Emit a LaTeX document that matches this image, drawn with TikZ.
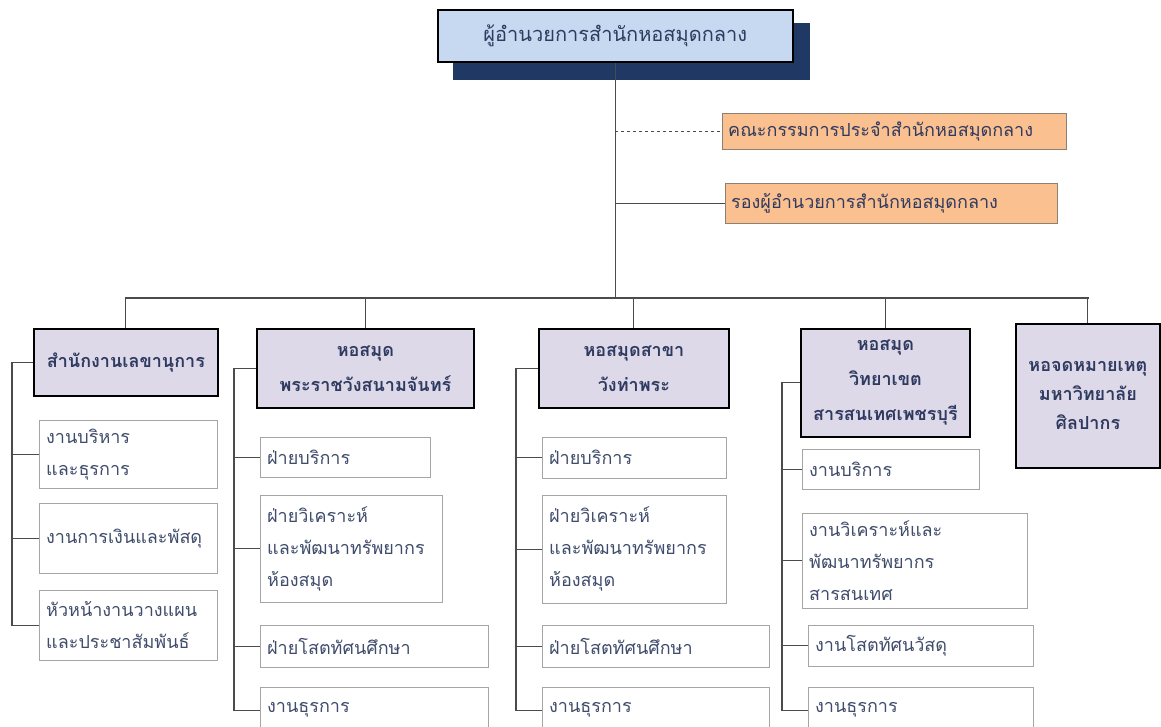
\documentclass[tikz,border=0pt]{standalone}
\usepackage{fontspec}
\newfontfamily\thai[Script=Thai]{Loma}
\usepackage{xcolor}
\usetikzlibrary{positioning,calc}
\definecolor{headblue}{RGB}{198,217,240}
\definecolor{shadownavy}{RGB}{31,56,100}
\definecolor{boardorange}{RGB}{250,192,143}
\definecolor{deptlilac}{RGB}{221,217,232}
\definecolor{inkblue}{RGB}{47,58,96}
\definecolor{unitink}{RGB}{64,76,108}
\definecolor{unitgray}{RGB}{165,165,165}
\definecolor{linegray}{RGB}{75,75,75}
\tikzset{
    headbox/.style={
        draw=black,
        line width=1.6pt,
        fill=headblue,
        anchor=north west,
        minimum width=355pt,
        minimum height=52pt,
        text=inkblue,
        font=\thai\fontsize{20}{22}\selectfont
    },
    boardbox/.style={
        draw=gray!80!brown,
        fill=boardorange,
        anchor=north west,
        align=left,
        inner xsep=6pt,
        text=inkblue,
        font=\thai\fontsize{18}{20}\selectfont
    },
    deptbox/.style={
        draw=black,
        line width=1.8pt,
        fill=deptlilac,
        anchor=north west,
        align=center,
        text=inkblue,
        font=\thai\bfseries\fontsize{18}{35}\selectfont
    },
    unitbox/.style={
        draw=unitgray,
        fill=white,
        anchor=north west,
        align=left,
        inner xsep=7pt,
        inner ysep=1pt,
        text=unitink,
        font=\thai\fontsize{18}{32}\selectfont
    },
    conn/.style={
        draw=linegray,
        line width=1.1pt
    }
}

\begin{document}
\begin{tikzpicture}[x=1pt, y=-1pt]
    \useasboundingbox (0,0) rectangle (1161,726);
    \clip (0,0) rectangle (1161,726);

    % Director
    \node[fill=shadownavy, anchor=north west, minimum width=357pt,
          minimum height=57pt, inner sep=0pt] (shadow) at (453,23) {};
    \node[headbox] (head) at (437,9) {ผู้อำนวยการสำนักหอสมุดกลาง};

    % Committee and deputy
    \node[boardbox, text width=332pt, minimum height=36pt] (board) at (722,113)
        {คณะกรรมการประจำสำนักหอสมุดกลาง};
    \node[boardbox, text width=320pt, minimum height=40pt] (deputy) at (725,183)
        {รองผู้อำนวยการสำนักหอสมุดกลาง};

    % Departments
    \node[deptbox, minimum width=184pt, minimum height=67pt] (d1) at (33,328)
        {สำนักงานเลขานุการ};
    \node[deptbox, minimum width=217pt, minimum height=79pt] (d2) at (256,328)
        {หอสมุด\\พระราชวังสนามจันทร์};
    \node[deptbox, minimum width=190pt, minimum height=79pt] (d3) at (538,328)
        {หอสมุดสาขา\\วังท่าพระ};
    \node[deptbox, minimum width=169pt, minimum height=108pt] (d4) at (800,328)
        {หอสมุด\\วิทยาเขต\\สารสนเทศเพชรบุรี};
    \node[deptbox, minimum width=144pt, minimum height=144pt,
          font=\thai\bfseries\fontsize{18}{29}\selectfont] (d5) at (1015,323)
        {หอจดหมายเหตุ\\มหาวิทยาลัย\\ศิลปากร};

    % Units - secretariat
    \node[unitbox, text width=164pt, minimum height=68pt] (u11) at (39,420)
        {งานบริหาร\\และธุรการ};
    \node[unitbox, text width=164pt, minimum height=70pt] (u12) at (39,503)
        {งานการเงินและพัสดุ};
    \node[unitbox, text width=164pt, minimum height=70pt] (u13) at (39,590)
        {หัวหน้างานวางแผน\\และประชาสัมพันธ์};

    % Units - Sanam Chandra
    \node[unitbox, text width=156pt, minimum height=40pt] (u21) at (260,437)
        {ฝ่ายบริการ};
    \node[unitbox, text width=168pt, minimum height=107pt] (u22) at (260,495)
        {ฝ่ายวิเคราะห์\\และพัฒนาทรัพยากร\\ห้องสมุด};
    \node[unitbox, text width=214pt, minimum height=42pt] (u23) at (260,625)
        {ฝ่ายโสตทัศนศึกษา};
    \node[unitbox, text width=214pt, minimum height=46pt] (u24) at (260,687)
        {งานธุรการ};

    % Units - Wang Tha Phra
    \node[unitbox, text width=170pt, minimum height=41pt] (u31) at (542,437)
        {ฝ่ายบริการ};
    \node[unitbox, text width=170pt, minimum height=108pt] (u32) at (542,495)
        {ฝ่ายวิเคราะห์\\และพัฒนาทรัพยากร\\ห้องสมุด};
    \node[unitbox, text width=213pt, minimum height=42pt] (u33) at (542,625)
        {ฝ่ายโสตทัศนศึกษา};
    \node[unitbox, text width=213pt, minimum height=46pt] (u34) at (542,687)
        {งานธุรการ};

    % Units - Phetchaburi
    \node[unitbox, text width=163pt, minimum height=40pt] (u41) at (802,449)
        {งานบริการ};
    \node[unitbox, text width=211pt, minimum height=95pt] (u42) at (802,513)
        {งานวิเคราะห์และ\\พัฒนาทรัพยากร\\สารสนเทศ};
    \node[unitbox, text width=211pt, minimum height=41pt] (u43) at (808,625)
        {งานโสตทัศนวัสดุ};
    \node[unitbox, text width=211pt, minimum height=46pt] (u44) at (808,687)
        {งานธุรการ};

    % Trunk and bus
    \coordinate (bus) at (614,298);
    \coordinate (busL) at (125,298);
    \coordinate (busR) at (1089,298);
    \draw[conn] (head.south) -- (head.south |- bus);
    \draw[conn, dashed] (head.south |- board.west) -- (board.west);
    \draw[conn] (head.south |- deputy.west) -- (deputy.west);
    \draw[conn] (busL) -- (busR);
    \foreach \d in {d1,d2,d3,d4,d5}
        \draw[conn] (\d.north |- bus) -- (\d.north);

    % Column spines
    \coordinate (s1) at (12,0);
    \coordinate (s2) at (234,0);
    \coordinate (s3) at (516,0);
    \coordinate (s4) at (782,0);
    \draw[conn] (d1.west) -- (d1.west -| s1) |- (u13.west);
    \draw[conn] (d2.west) -- (d2.west -| s2) |- (u24.west);
    \draw[conn] (d3.west) -- (d3.west -| s3) |- (u34.west);
    \draw[conn] (d4.west) -- (d4.west -| s4) |- (u44.west);
    \foreach \u in {u11,u12}
        \draw[conn] (\u.west -| s1) -- (\u.west);
    \foreach \u in {u21,u22,u23}
        \draw[conn] (\u.west -| s2) -- (\u.west);
    \foreach \u in {u31,u32,u33}
        \draw[conn] (\u.west -| s3) -- (\u.west);
    \foreach \u in {u41,u42,u43}
        \draw[conn] (\u.west -| s4) -- (\u.west);
\end{tikzpicture}
\end{document}
